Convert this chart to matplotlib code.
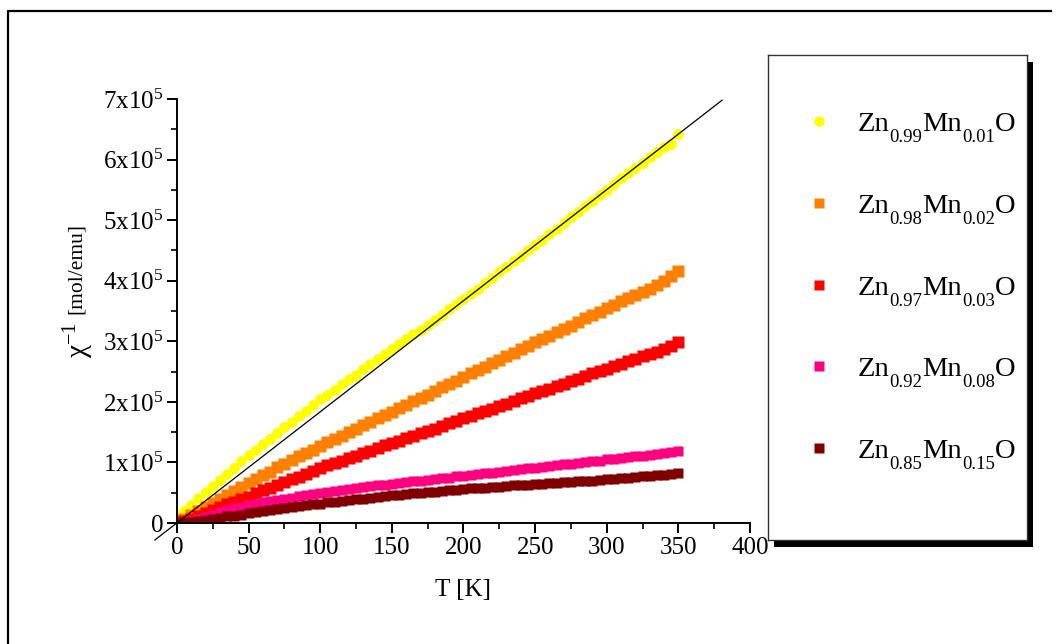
import matplotlib
matplotlib.use('Agg')
import numpy as np
import matplotlib.pyplot as plt
from matplotlib.patches import Rectangle
from matplotlib.lines import Line2D

plt.rcParams['font.family'] = ['Liberation Serif', 'DejaVu Serif']
plt.rcParams['mathtext.fontset'] = 'custom'
plt.rcParams['mathtext.rm'] = 'Liberation Serif'
plt.rcParams['mathtext.it'] = 'Liberation Serif:italic'

# temperature grid [K]
T = [2] + list(range(5, 355, 5))

# inverse susceptibility, in units of 1e5 mol/emu
chi_001 = [0.14, 0.20, 0.30, 0.41, 0.51, 0.61, 0.71, 0.81, 0.91, 1.02, 1.12,
           1.21, 1.30, 1.39, 1.48, 1.58, 1.67, 1.76, 1.85, 1.94, 2.04,
           2.12, 2.20, 2.29, 2.37, 2.45, 2.54, 2.63, 2.71, 2.79, 2.87,
           2.95, 3.04, 3.12, 3.19, 3.27, 3.35, 3.44, 3.53, 3.61, 3.70,
           3.78, 3.87, 3.97, 4.05, 4.14, 4.23, 4.32, 4.41, 4.50, 4.59,
           4.68, 4.77, 4.86, 4.95, 5.05, 5.14, 5.23, 5.32, 5.41, 5.50,
           5.59, 5.69, 5.78, 5.86, 5.95, 6.04, 6.12, 6.20, 6.26, 6.43]
chi_002 = [0.02, 0.06, 0.13, 0.20, 0.26, 0.33, 0.40, 0.46, 0.53, 0.59, 0.66,
           0.72, 0.79, 0.85, 0.92, 0.98, 1.04, 1.11, 1.16, 1.21, 1.27,
           1.33, 1.38, 1.44, 1.50, 1.55, 1.61, 1.67, 1.73, 1.78, 1.84,
           1.90, 1.95, 2.01, 2.07, 2.12, 2.18, 2.24, 2.30, 2.35, 2.41,
           2.47, 2.52, 2.58, 2.64, 2.69, 2.75, 2.81, 2.87, 2.92, 2.98,
           3.04, 3.09, 3.15, 3.21, 3.26, 3.32, 3.38, 3.44, 3.49, 3.55,
           3.60, 3.66, 3.71, 3.76, 3.82, 3.87, 3.93, 3.99, 4.07, 4.16]
chi_003 = [0.01, 0.03, 0.07, 0.12, 0.17, 0.22, 0.26, 0.31, 0.35, 0.39, 0.43,
           0.50, 0.54, 0.58, 0.63, 0.67, 0.72, 0.76, 0.81, 0.86, 0.91,
           0.95, 0.99, 1.03, 1.07, 1.11, 1.15, 1.19, 1.24, 1.28, 1.32,
           1.36, 1.40, 1.44, 1.48, 1.52, 1.56, 1.60, 1.65, 1.69, 1.73,
           1.77, 1.81, 1.85, 1.89, 1.93, 1.97, 2.01, 2.06, 2.10, 2.14,
           2.18, 2.22, 2.26, 2.30, 2.34, 2.38, 2.42, 2.47, 2.51, 2.55,
           2.59, 2.63, 2.67, 2.71, 2.75, 2.79, 2.83, 2.88, 2.93, 2.99]
chi_008 = [0.01, 0.02, 0.04, 0.07, 0.10, 0.13, 0.18, 0.21, 0.24, 0.27, 0.29,
           0.32, 0.34, 0.36, 0.38, 0.40, 0.42, 0.44, 0.46, 0.48, 0.50,
           0.52, 0.53, 0.55, 0.56, 0.58, 0.59, 0.61, 0.62, 0.63, 0.65,
           0.66, 0.67, 0.69, 0.70, 0.71, 0.73, 0.74, 0.75, 0.77, 0.78,
           0.79, 0.81, 0.82, 0.83, 0.85, 0.86, 0.87, 0.89, 0.90, 0.91,
           0.93, 0.94, 0.95, 0.97, 0.98, 0.99, 1.01, 1.02, 1.03, 1.05,
           1.06, 1.07, 1.09, 1.10, 1.11, 1.13, 1.14, 1.16, 1.17, 1.19]
chi_015 = [0.00, 0.01, 0.02, 0.04, 0.05, 0.07, 0.09, 0.11, 0.12, 0.14, 0.16,
           0.18, 0.19, 0.21, 0.23, 0.24, 0.26, 0.28, 0.29, 0.31, 0.32,
           0.34, 0.35, 0.36, 0.38, 0.39, 0.40, 0.42, 0.43, 0.44, 0.46,
           0.47, 0.48, 0.49, 0.50, 0.51, 0.52, 0.53, 0.54, 0.55, 0.56,
           0.57, 0.57, 0.58, 0.59, 0.60, 0.61, 0.62, 0.62, 0.63, 0.64,
           0.65, 0.66, 0.66, 0.67, 0.68, 0.69, 0.69, 0.70, 0.71, 0.72,
           0.73, 0.74, 0.75, 0.76, 0.77, 0.78, 0.79, 0.80, 0.81, 0.83]

# Curie-Weiss straight line
fit_T = [-15.4, 380.5]
fit_chi = [-0.28, 6.98]

xticks = [0, 50, 100, 150, 200, 250, 300, 350, 400]
yticks = [0, 1, 2, 3, 4, 5, 6, 7]
ytick_labels = ['0'] + [r'$\mathregular{%dx10^{5}}$' % i for i in yticks[1:]]

zn = ['0.99', '0.98', '0.97', '0.92', '0.85']
mn = ['0.01', '0.02', '0.03', '0.08', '0.15']
colors = ['#ffff00', '#ff8000', '#ff0000', '#ff0080', '#800000']
markers = ['o', 's', 's', 's', 's']
sizes = [7.8, 8.0, 8.0, 7.0, 7.0]
series = [chi_001, chi_002, chi_003, chi_008, chi_015]

W, H = 1059, 644
fig = plt.figure(figsize=(W / 100, H / 100), dpi=100)

def fx(px):
    return px / W

def fy(py):
    return 1 - py / H

ax = fig.add_axes([fx(177), fy(523), fx(750) - fx(177), fy(99) - fy(523)])
for s, c, m, ms in zip(series, colors, markers, sizes):
    ax.plot(T, np.array(s) * 1e5, m, color=c, ms=ms, mec='none', ls='none')
ax.plot(fit_T, np.array(fit_chi) * 1e5, color='k', lw=0.9, clip_on=False)

ax.set_xlim(0, 400)
ax.set_ylim(0, 7e5)
ax.spines['top'].set_visible(False)
ax.spines['right'].set_visible(False)
for sp in ['left', 'bottom']:
    ax.spines[sp].set_linewidth(1.4)
ax.set_xticks(xticks)
ax.set_xticks(np.array(xticks[:-1]) + 25, minor=True)
ax.set_yticks(np.array(yticks) * 1e5, ytick_labels)
ax.set_yticks((np.array(yticks[:-1]) + 0.5) * 1e5, minor=True)
ax.tick_params(which='major', direction='out', length=7, width=1.4, labelsize=18, pad=3)
ax.tick_params(which='minor', direction='out', length=4, width=1.2)

fig.text(fx(463), fy(590), 'T [K]', ha='center', va='center', fontsize=18)
fig.text(fx(79), fy(340), r'$\mathregular{\chi^{-1}}$', rotation=90, ha='center', va='center', fontsize=21)
fig.text(fx(76), fy(268), '[mol/emu]', rotation=90, ha='center', va='center', fontsize=15.5)

# outer frame
fig.add_artist(Line2D([fx(8), fx(8), fx(1051)], [0, fy(11), fy(11)], color='k', lw=1.6))

# legend box with shadow
lx0, lx1, ly0, ly1 = 768, 1027, 55, 540
shadow = Rectangle((fx(lx0 + 6), fy(ly1 + 7)), fx(lx1) - fx(lx0), fy(ly0) - fy(ly1),
                   facecolor='k', edgecolor='k', lw=0, zorder=-5)
fig.add_artist(shadow)
leg = fig.add_axes([fx(lx0), fy(ly1), fx(lx1) - fx(lx0), fy(ly0) - fy(ly1)])
leg.set_zorder(5)
leg.set_facecolor('white')
leg.set_xlim(0, 1)
leg.set_ylim(0, 1)
leg.set_xticks([])
leg.set_yticks([])
for sp in leg.spines.values():
    sp.set_linewidth(1.0)
    sp.set_color('#333333')

rend = fig.canvas.get_renderer()
ypx = [121, 203, 285, 366, 448]
for yp, a, b, c, m in zip(ypx, zn, mn, colors, markers):
    leg.plot([(819 - lx0) / (lx1 - lx0)], [(ly1 - yp) / (ly1 - ly0)], m, color=c, ms=7.5, mec='none')
    x = 858
    base = yp + 10
    for piece, size, dy in [('Zn', 20.5, 0), (a, 13.5, 11), ('Mn', 20.5, 0), (b, 13.5, 11), ('O', 20.5, 0)]:
        t = fig.text(fx(x), fy(base + dy), piece, fontsize=size, va='baseline', ha='left', zorder=10)
        x += t.get_window_extent(rend).width

fig.savefig('out.png', dpi=100)
